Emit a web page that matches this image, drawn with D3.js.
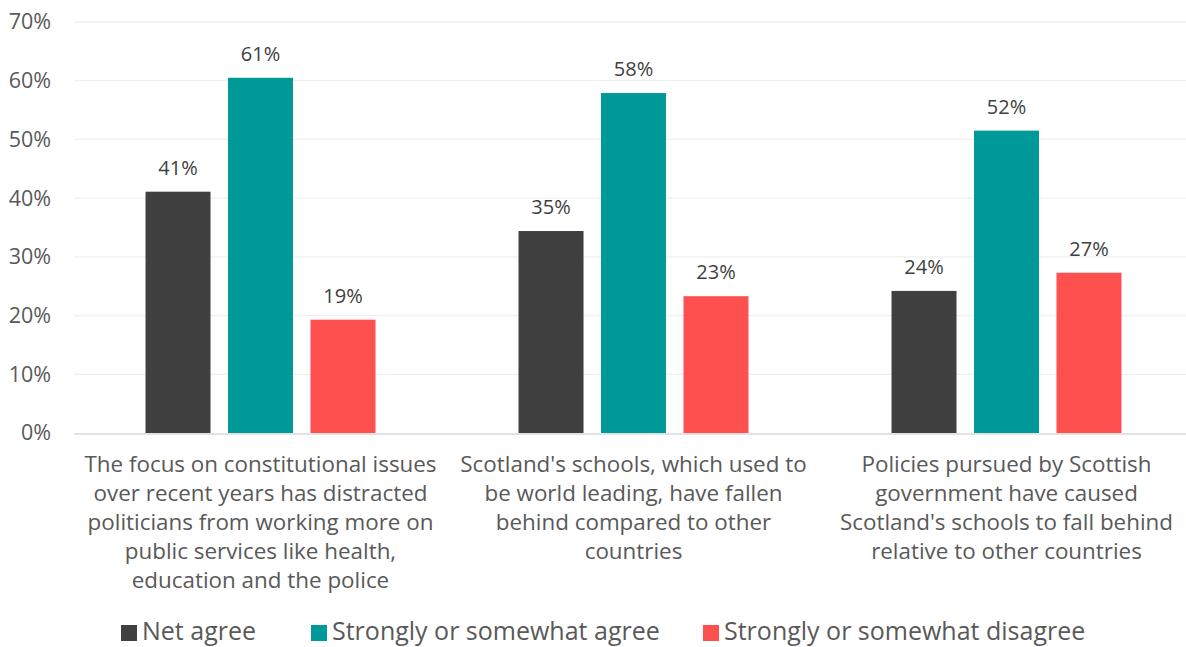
<!DOCTYPE html>
<html><head><meta charset="utf-8">
<script src="https://cdn.jsdelivr.net/npm/d3@7"></script>
<style>body{margin:0;background:#fff}svg{display:block}text{font-family:"Open Sans",sans-serif}</style>
</head><body><svg id="c" width="1186" height="647"></svg>
<script>
const categories = [
  ["The focus on constitutional issues","over recent years has distracted","politicians from working more on","public services like health,","education and the police"],
  ["Scotland's schools, which used to","be world leading, have fallen","behind compared to other","countries"],
  ["Policies pursued by Scottish","government have caused","Scotland's schools to fall behind","relative to other countries"]
];
const seriesNames = ["Net agree","Strongly or somewhat agree","Strongly or somewhat disagree"];
const netAgree = [41.1, 34.4, 24.2];
const agree = [60.5, 57.9, 51.5];
const disagree = [19.3, 23.3, 27.3];
const labelsNet = ["41%","35%","24%"];
const labelsAgree = ["61%","58%","52%"];
const labelsDisagree = ["19%","23%","27%"];
const yTicks = [0,10,20,30,40,50,60,70];
const colors = ["#404040","#009999","#FF5050"];

const series = [netAgree, agree, disagree];
const seriesLabels = [labelsNet, labelsAgree, labelsDisagree];
const svg = d3.select("#c");
const x0 = d3.scaleBand().domain([0,1,2]).range([74,1193]).paddingInner(0).paddingOuter(0);
const x1 = d3.scaleBand().domain([0,1,2]).range([0, x0.bandwidth()]).paddingInner(0.212).paddingOuter(0.867);
const y = d3.scaleLinear().domain([0,70]).range([433,22]);

// gridlines
svg.append("g").selectAll("line").data(yTicks.filter(t=>t>0)).join("line")
  .attr("x1",74).attr("x2",1186).attr("y1",d=>y(d)).attr("y2",d=>y(d))
  .attr("stroke","#efefef").attr("stroke-width",1.3);

const yAxis = svg.append("g").attr("transform","translate(74,0)")
  .call(d3.axisLeft(y).tickValues(yTicks).tickFormat(d=>d+"%").tickSize(0).tickPadding(23));
yAxis.select(".domain").remove();
yAxis.selectAll("text").attr("font-size",21.5).attr("fill","#595959").attr("font-family","'Open Sans',sans-serif");

// bars
series.forEach((s,si)=>{
  const g = svg.append("g");
  g.selectAll("rect").data(s).join("rect")
    .attr("x",(d,i)=>x0(i)+x1(si)).attr("width",x1.bandwidth())
    .attr("y",d=>y(d)).attr("height",d=>y(0)-y(d)).attr("fill",colors[si]);
  g.selectAll("text").data(s).join("text")
    .attr("x",(d,i)=>x0(i)+x1(si)+x1.bandwidth()/2).attr("y",d=>y(d)-17)
    .attr("text-anchor","middle").attr("font-size",20).attr("fill","#404040")
    .text((d,i)=>seriesLabels[si][i]);
});

// baseline
svg.append("line").attr("x1",74).attr("x2",1186).attr("y1",y(0)+1).attr("y2",y(0)+1)
  .attr("stroke","#d9d9d9").attr("stroke-width",1.5);

// category labels
categories.forEach((lines,i)=>{
  const t = svg.append("text").attr("text-anchor","middle").attr("font-size",22.4).attr("fill","#595959");
  lines.forEach((ln,j)=>{
    t.append("tspan").attr("x",x0(i)+x0.bandwidth()/2).attr("y",472+j*29).text(ln);
  });
});

// legend
const legX = [121, 311, 703];
const lg = svg.append("g");
seriesNames.forEach((n,i)=>{
  lg.append("rect").attr("x",legX[i]).attr("y",625).attr("width",16).attr("height",16).attr("fill",colors[i]);
  lg.append("text").attr("x",legX[i]+21).attr("y",640).attr("font-size",25).attr("fill","#595959").text(n);
});
</script></body></html>
